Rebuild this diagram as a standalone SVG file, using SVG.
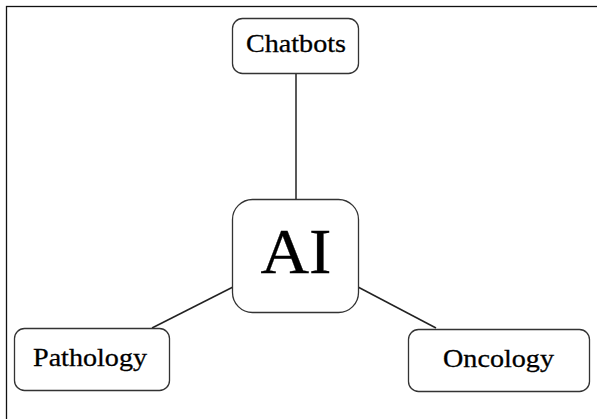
<svg xmlns="http://www.w3.org/2000/svg" width="597" height="419" viewBox="0 0 597 419">
<style>
.box{fill:#fff;stroke:#333;stroke-width:1.3}
.lbl{font-family:"Liberation Serif","Times New Roman",serif;fill:#000;text-anchor:middle;stroke:#000;stroke-width:0.3}
.conn line{stroke:#222;stroke-width:1.5}
</style>
<rect x="0" y="0" width="597" height="419" fill="#fff"/>
<rect x="6.5" y="6.5" width="600" height="420" fill="none" stroke="#111" stroke-width="1.3"/>
<g id="connectors" class="conn">
<line x1="296" y1="73" x2="296" y2="200"/>
<line x1="233" y1="287" x2="152" y2="328"/>
<line x1="358" y1="287" x2="436" y2="328"/>
</g>
<g id="chatbots">
<rect class="box" x="232.5" y="18.5" width="126" height="55" rx="10"/>
<text class="lbl" x="296" y="52" font-size="26" textLength="100" lengthAdjust="spacingAndGlyphs">Chatbots</text>
</g>
<g id="ai">
<rect class="box" x="232.5" y="199.5" width="126" height="113" rx="20"/>
<text class="lbl" x="296" y="273" font-size="64" textLength="71" lengthAdjust="spacingAndGlyphs">AI</text>
</g>
<g id="pathology">
<rect class="box" x="14.5" y="328.5" width="155" height="62" rx="10"/>
<text class="lbl" x="90" y="366" font-size="26" textLength="114" lengthAdjust="spacingAndGlyphs">Pathology</text>
</g>
<g id="oncology">
<rect class="box" x="408.5" y="329.5" width="181" height="62" rx="10"/>
<text class="lbl" x="498.5" y="367" font-size="26" textLength="111" lengthAdjust="spacingAndGlyphs">Oncology</text>
</g>
</svg>
